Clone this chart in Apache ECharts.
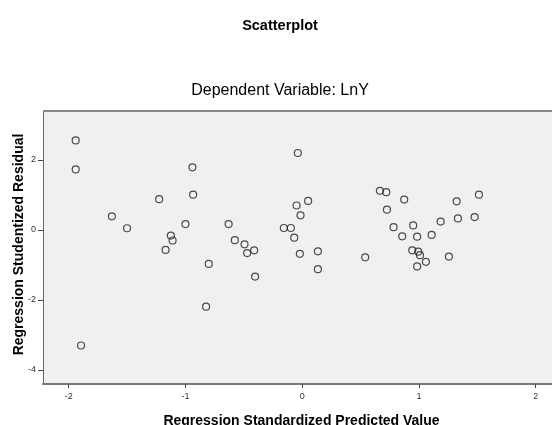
<!DOCTYPE html>
<html>
<head>
<meta charset="utf-8">
<script src="https://cdn.jsdelivr.net/npm/echarts@6/dist/echarts.min.js"></script>
<style>html,body{margin:0;padding:0;background:#fff}#c{width:552px;height:425px}</style>
</head>
<body>
<div id="c"></div>
<script>
var predicted = [-1.94,-1.94,-1.63,-1.50,-1.225,-0.94,-0.934,-1.00,-1.125,-1.11,-1.17,-0.80,-0.63,-0.577,-0.494,-0.471,-0.411,
  -0.403,-0.823,-1.894,
  -0.037,-0.048,0.051,-0.014,-0.157,-0.097,-0.068,-0.020,0.135,0.135,0.54,0.666,0.72,0.874,0.726,0.783,0.951,0.857,0.985,1.109,1.186,1.334,1.477,1.323,1.514,0.943,0.994,1.009,1.06,0.985,1.257];
var residual = [2.56,1.73,0.39,0.05,0.88,1.79,1.01,0.17,-0.16,-0.30,-0.57,-0.97,0.17,-0.29,-0.41,-0.66,-0.58,
  -1.33,-2.19,-3.30,
  2.20,0.70,0.83,0.42,0.057,0.057,-0.22,-0.68,-0.61,-1.12,-0.78,1.12,1.08,0.87,0.58,0.08,0.13,-0.18,-0.19,-0.14,0.24,0.33,0.37,0.82,1.01,-0.58,-0.62,-0.72,-0.91,-1.04,-0.76];
var xTicks = [-2,-1,0,1,2];
var yTicks = [-4,-2,0,2];
var titleText = 'Scatterplot';
var subtitleText = 'Dependent Variable: LnY';
var xName = 'Regression Standardized Predicted Value';
var yName = 'Regression Studentized Residual';

var pts = predicted.map(function(x,i){return [x, residual[i]];});
var chart = echarts.init(document.getElementById('c'), null, {renderer:'canvas'});
var font = 'Arial, "Liberation Sans", sans-serif';
chart.setOption({
  animation:false,
  backgroundColor:'#ffffff',
  title:[
    {text:titleText,left:275,top:13,textAlign:'center',textStyle:{fontFamily:font,fontSize:14.5,fontWeight:'bold',color:'#000'}},
    {text:subtitleText,left:275,top:78,textAlign:'center',textStyle:{fontFamily:font,fontSize:16,fontWeight:'normal',color:'#000'}}
  ],
  grid:{left:43,right:0,top:111,bottom:41,containLabel:false,outerBoundsMode:'none',show:true,backgroundColor:'#f0f0f0',borderWidth:0},
  xAxis:{
    type:'value',min:-2.22,max:2.14,
    axisLine:{show:true,onZero:false,lineStyle:{color:'#777',width:2}},
    axisTick:{show:true,length:4,lineStyle:{color:'#444',width:1},customValues:xTicks},
    axisLabel:{fontFamily:font,fontSize:9,color:'#333',margin:8,customValues:xTicks},
    splitLine:{show:false},
    name:xName,nameLocation:'middle',nameGap:30,
    nameTextStyle:{fontFamily:font,fontSize:14,fontWeight:'bold',color:'#000',padding:[0,0,0,8]}
  },
  yAxis:{
    type:'value',min:-4.4,max:3.4,
    axisLine:{show:true,onZero:false,lineStyle:{color:'#666',width:1}},
    axisTick:{show:true,length:5,lineStyle:{color:'#444',width:1},customValues:yTicks},
    axisLabel:{fontFamily:font,fontSize:9,color:'#333',margin:7,customValues:yTicks},
    splitLine:{show:false},
    name:yName,nameLocation:'middle',nameGap:17,nameMoveOverlap:false,
    nameTextStyle:{fontFamily:font,fontSize:14,fontWeight:'bold',color:'#000',padding:[0,0,0,6]}
  },
  graphic:[{type:'line',shape:{x1:43,y1:111,x2:552,y2:111},style:{stroke:'#888',lineWidth:2},z:10}],
  series:[{
    type:'scatter',data:pts,symbol:'circle',symbolSize:7,
    itemStyle:{color:'rgba(0,0,0,0)',borderColor:'#222',borderWidth:1.2}
  }]
});
</script>
</body>
</html>
